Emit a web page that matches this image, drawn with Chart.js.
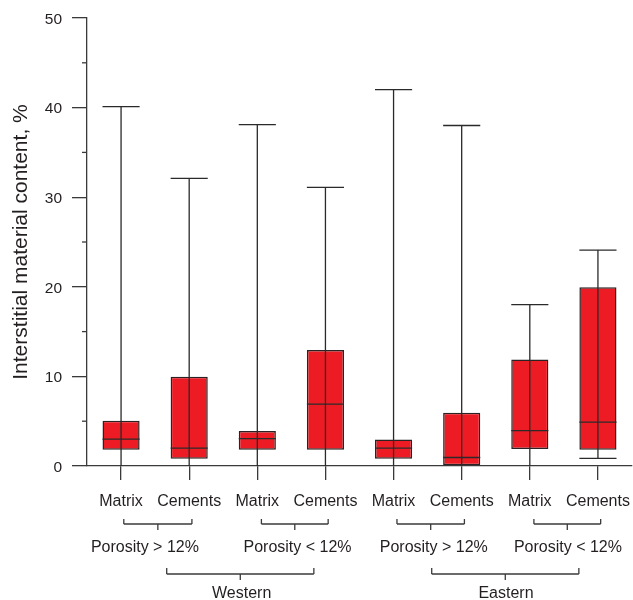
<!DOCTYPE html>
<html>
<head>
<meta charset="utf-8">
<script src="https://cdn.jsdelivr.net/npm/chart.js@4/dist/chart.umd.min.js"></script>
<style>
  html, body { margin: 0; padding: 0; background: #ffffff; }
  #c { display: block; }
</style>
</head>
<body>
<canvas id="c" width="633" height="600"></canvas>
<script>
// Interstitial material content by sandstone group (box = quartiles, line = median)
const categories   = ['Matrix', 'Cements', 'Matrix', 'Cements', 'Matrix', 'Cements', 'Matrix', 'Cements'];
const whiskerLow   = [0,    0,    0,    0,    0,    0,    0,    0.85];
const quartileLow  = [1.8,  0.8,  1.8,  1.8,  0.8,  0,    1.9,  1.8];
const medians      = [3,    2,    3.05, 6.9,  2,    0.95, 3.95, 4.9];
const quartileHigh = [5.05, 9.95, 3.9,  12.95, 2.95, 5.95, 11.9, 19.95];
const whiskerHigh  = [40.1, 32.1, 38.1, 31.1, 42,   38,   18,   24.1];
const porosityGroups = ['Porosity > 12%', 'Porosity < 12%', 'Porosity > 12%', 'Porosity < 12%'];
const regions        = ['Western', 'Eastern'];
const yMajorTicks    = [0, 10, 20, 30, 40, 50];
const yMinorTicks    = [5, 15, 25, 35, 45];

const INK = '#231f20';
const LINE = '#3a3a3a';
const FONT = '"Liberation Sans", Arial, Helvetica, sans-serif';

// Whiskers, caps and medians drawn on top of the quartile boxes
const boxMarks = {
  id: 'boxMarks',
  afterDatasetsDraw(chart) {
    const { ctx, scales: { x, y } } = chart;
    const bar = chart.getDatasetMeta(0).data[0];
    const half = bar.width / 2;
    ctx.save();
    ctx.strokeStyle = '#2a2a2a';
    ctx.lineWidth = 1.3;
    const seg = (x1, y1, x2, y2) => {
      ctx.beginPath(); ctx.moveTo(x1, y1); ctx.lineTo(x2, y2); ctx.stroke();
    };
    categories.forEach((_, i) => {
      const cx = x.getPixelForValue(i);
      const yLo = y.getPixelForValue(whiskerLow[i]);
      const yHi = y.getPixelForValue(whiskerHigh[i]);
      const yMed = y.getPixelForValue(medians[i]);
      seg(cx, yLo, cx, yHi);
      seg(cx - half, yHi, cx + half, yHi);
      if (whiskerLow[i] > 0) seg(cx - half, yLo, cx + half, yLo);
      seg(cx - half, yMed, cx + half, yMed);
    });
    ctx.restore();
  }
};

// Minor y ticks plus the two levels of group brackets under the x axis
const axisExtras = {
  id: 'axisExtras',
  afterDraw(chart, args, opts) {
    const { ctx, scales: { x, y } } = chart;
    ctx.save();
    ctx.strokeStyle = LINE;
    ctx.lineWidth = 1.3;
    const seg = (x1, y1, x2, y2) => {
      ctx.beginPath(); ctx.moveTo(x1, y1); ctx.lineTo(x2, y2); ctx.stroke();
    };
    yMinorTicks.forEach(v => {
      const py = y.getPixelForValue(v);
      seg(y.right - 5, py, y.right, py);
    });

    const bracket = (from, to, lineY, up, down) => {
      const x1 = x.getPixelForValue(from), x2 = x.getPixelForValue(to);
      const mid = (x1 + x2) / 2;
      seg(x1, lineY - up, x1, lineY);
      seg(x1, lineY, x2, lineY);
      seg(x2, lineY - up, x2, lineY);
      seg(mid, lineY, mid, lineY + down);
    };
    opts.porositySpans.forEach(s => bracket(s[0], s[1], opts.porosityBracketY, 5, 6));
    opts.regionSpans.forEach(s => bracket(s[0], s[1], opts.regionBracketY, 6, 6));

    ctx.fillStyle = INK;
    ctx.font = '16px ' + FONT;
    ctx.textAlign = 'center';
    ctx.textBaseline = 'alphabetic';
    porosityGroups.forEach((t, i) => ctx.fillText(t, x.getPixelForValue(opts.porosityLabelAt[i]), opts.porosityTextY));
    regions.forEach((t, i) => ctx.fillText(t, x.getPixelForValue(opts.regionLabelAt[i]), opts.regionTextY));
    ctx.restore();
  }
};

new Chart(document.getElementById('c'), {
  type: 'bar',
  data: {
    labels: categories,
    datasets: [{
      data: quartileLow.map((lo, i) => [lo, quartileHigh[i]]),
      backgroundColor: '#ed1c24',
      borderColor: '#2b2323',
      borderWidth: 1.5,
      borderSkipped: false,
      categoryPercentage: 1,
      barPercentage: 0.545
    }]
  },
  options: {
    responsive: false,
    animation: false,
    devicePixelRatio: 1,
    layout: { padding: { top: 18, right: 1, left: 0, bottom: 0 } },
    plugins: {
      legend: { display: false },
      tooltip: { enabled: false },
      axisExtras: {
        porositySpans: [[0.04, 1.04], [2.06, 3.04], [4.05, 5.04], [6.06, 7.04]],
        regionSpans: [[0.67, 2.83], [4.56, 6.72]],
        porosityLabelAt: [0.35, 2.59, 4.59, 6.56],
        regionLabelAt: [1.77, 5.65],
        porosityBracketY: 524,
        regionBracketY: 574,
        porosityTextY: 552,
        regionTextY: 598
      }
    },
    scales: {
      x: {
        type: 'category',
        offset: true,
        afterFit: s => { s.height = 134; s.paddingLeft = 0; s.paddingRight = 0; },
        grid: {
          display: true, drawOnChartArea: false, drawTicks: true,
          tickLength: 14, offset: false, color: LINE, lineWidth: 1.3
        },
        border: { display: true, color: LINE, width: 1.3 },
        ticks: {
          color: INK, padding: 12, maxRotation: 0, autoSkip: false,
          font: { family: FONT, size: 16 }
        }
      },
      y: {
        min: 0, max: 50,
        afterFit: s => { s.width = 87; s.paddingTop = 0; s.paddingBottom = 0; },
        afterBuildTicks: s => { s.ticks = yMajorTicks.map(v => ({ value: v })); },
        grid: {
          display: true, drawOnChartArea: false, drawTicks: true,
          tickLength: 15, color: LINE, lineWidth: 1.3
        },
        border: { display: true, color: LINE, width: 1.3 },
        ticks: {
          color: INK, padding: 10, labelOffset: 1.5,
          font: { family: FONT, size: 15.5 }
        },
        title: {
          display: true,
          text: 'Interstitial material content, %',
          color: INK,
          padding: { top: 9, bottom: 0 },
          font: { family: FONT, size: 21 }
        }
      }
    }
  },
  plugins: [boxMarks, axisExtras]
});
</script>
</body>
</html>
